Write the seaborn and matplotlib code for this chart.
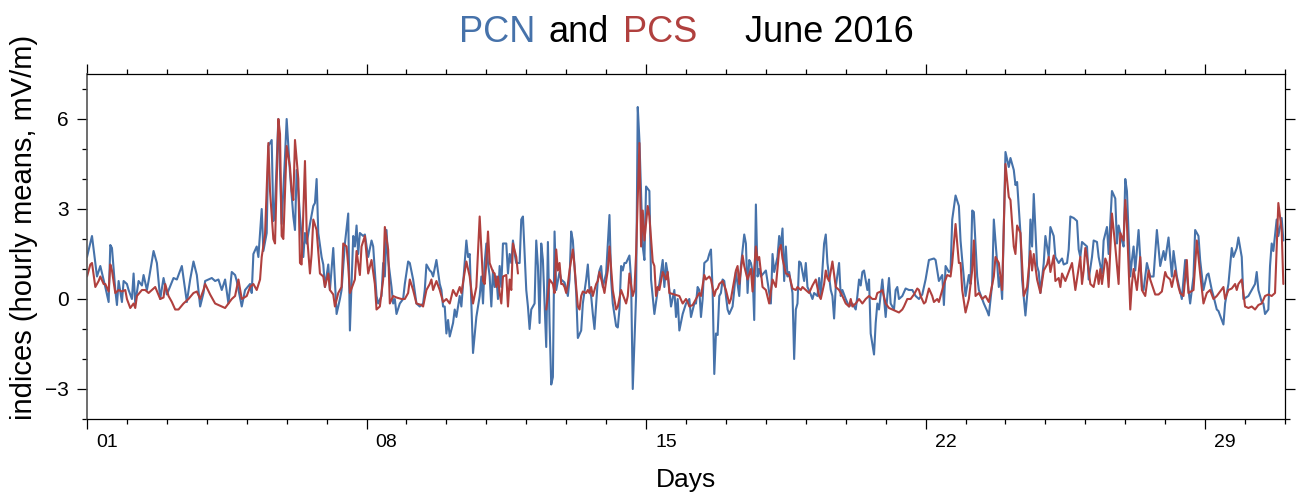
import numpy as np
import pandas as pd
import seaborn as sns
import matplotlib.pyplot as plt
import matplotlib.transforms as mtransforms
from matplotlib.ticker import MultipleLocator

# hourly means (hour since June 1 00:00, value in mV/m)
pcn_hours = [
    0, 3, 6, 8, 11, 13, 14, 15, 17, 18,
    19, 21, 22, 24, 25, 27, 28, 29, 31, 33,
    34, 36, 37, 40, 42, 44, 46, 48, 52, 54,
    57, 60, 62, 64, 66, 68, 70, 71, 73, 75,
    77, 79, 81, 83, 85, 87, 89, 90, 93, 95,
    98, 99, 100, 102, 103, 105, 106, 108, 109, 111,
    112, 113, 115, 117, 119, 120, 122, 124, 125, 126,
    127, 128, 130, 131, 132, 134, 136, 137, 138, 139,
    141, 142, 143, 145, 146, 148, 150, 152, 153, 155,
    157, 158, 160, 161, 162, 163, 164, 166, 167, 169,
    171, 172, 174, 175, 177, 178, 179, 180, 181, 183,
    184, 185, 186, 188, 190, 191, 193, 194, 196, 198,
    200, 202, 203, 204, 206, 207, 208, 210, 212, 213,
    214, 215, 216, 217, 218, 220, 221, 222, 224, 225,
    228, 229, 230, 231, 232, 234, 236, 237, 238, 239,
    240, 241, 242, 243, 244, 245, 246, 247, 248, 249,
    250, 252, 253, 254, 255, 256, 257, 258, 260, 261,
    262, 264, 265, 266, 267, 268, 269, 270, 271, 272,
    273, 274, 276, 277, 278, 279, 280, 281, 282, 284,
    285, 287, 289, 290, 291, 292, 294, 295, 297, 298,
    300, 301, 302, 303, 304, 305, 306, 307, 308, 309,
    310, 312, 314, 315, 316, 318, 319, 320, 321, 322,
    323, 324, 326, 327, 328, 330, 331, 332, 334, 335,
    336, 338, 339, 341, 343, 344, 346, 347, 348, 349,
    351, 353, 354, 355, 356, 358, 360, 362, 363, 365,
    366, 367, 368, 369, 370, 371, 373, 374, 375, 376,
    377, 378, 379, 380, 381, 382, 383, 384, 385, 386,
    388, 389, 390, 392, 393, 395, 396, 397, 398, 399,
    400, 401, 402, 403, 404, 405, 408, 411, 412, 413,
    415, 416, 417, 418, 419, 420, 421, 422, 424, 425,
    426, 427, 428, 429, 431, 432, 433, 435, 436, 437,
    439, 440, 441, 443, 444, 445, 447, 448, 449, 450,
    452, 453, 454, 456, 458, 460, 462, 463, 464, 465,
    466, 467, 469, 470, 471, 473, 474, 475, 476, 478,
    480, 481, 482, 483, 485, 486, 487, 488, 490, 492,
    494, 496, 498, 500, 502, 504, 506, 509, 510, 512,
    514, 515, 516, 518, 519, 520, 522, 524, 525, 526,
    527, 528, 530, 531, 532, 533, 535, 536, 538, 539,
    541, 542, 544, 545, 547, 548, 549, 550, 552, 554,
    555, 557, 558, 559, 561, 562, 564, 566, 567, 568,
    569, 571, 572, 573, 575, 576, 578, 579, 581, 582,
    584, 586, 587, 589, 590, 591, 593, 595, 596, 597,
    598, 599, 601, 602, 604, 605, 607, 608, 610, 611,
    613, 614, 616, 618, 619, 620, 621, 622, 623, 624,
    625, 627, 628, 629, 630, 632, 634, 635, 637, 639,
    641, 643, 645, 647, 648, 650, 652, 653, 655, 656,
    658, 660, 662, 663, 665, 666, 668, 669, 671, 673,
    674, 676, 677, 679, 680, 682, 683, 684, 686, 687,
    688, 689, 691, 692, 694, 695, 698, 700, 702, 703,
    704, 706, 707, 708, 710, 711, 712, 713, 715, 716,
    718, 719,
]
pcn_values = [
    1.4, 2.1, 0.75, 1.1, 0.4, -0.1, 1.8, 1.7, 0.3, -0.2,
    0.6, -0.1, 0.6, 0.5, 0.3, 0.0, 0.85, -0.15, 0.6, 0.45,
    0.8, 0.3, 0.6, 1.6, 1.2, 0.0, 0.7, 0.15, 0.7, 0.65,
    1.1, -0.1, 0.65, 1.25, 0.8, -0.25, 0.2, 0.6, 0.65, 0.7,
    0.6, 0.65, 0.3, 0.65, -0.15, 0.9, 0.8, 0.6, -0.25, 0.3,
    0.5, 0.2, 1.5, 1.75, 1.4, 3.0, 1.6, 2.2, 5.1, 5.3,
    2.6, 3.1, 6.0, 2.5, 4.75, 6.0, 4.2, 2.75, 2.3, 4.3,
    3.6, 2.75, 1.4, 2.2, 1.85, 2.5, 3.1, 3.2, 4.0, 2.2,
    1.4, 1.15, 0.4, 1.15, 0.3, 1.7, -0.5, 0.0, 0.3, 1.85,
    2.85, -1.05, 2.1, 1.75, 2.45, 1.5, 2.2, 2.1, 2.15, 1.4,
    1.95, 1.75, 0.1, -0.15, 0.1, 1.2, 0.75, 2.3, 1.3, 0.4,
    -0.15, 0.0, -0.5, -0.15, 0.0, 0.5, 1.25, 1.2, 0.65, -0.15,
    -0.25, -0.15, 0.3, 1.15, 0.95, 0.9, 0.75, 1.3, 0.5, 0.3,
    -0.25, -0.25, -1.15, -0.7, -1.25, -0.8, -0.35, -0.6, 0.1, -0.25,
    1.95, 1.4, 1.5, -0.15, -1.8, -0.6, 0.1, 0.75, -0.15, 1.2,
    1.85, 1.2, 0.75, -0.25, 0.95, 0.4, 0.75, 0.0, 1.1, 0.4,
    1.85, 1.85, 0.85, 1.5, 1.2, 1.95, 1.5, 1.2, 1.2, 2.65,
    2.75, 0.3, -0.25, -1.0, -0.35, -0.25, -0.15, 1.95, 1.1, -0.8,
    1.85, 1.3, -1.6, 1.9, -0.8, -2.85, -2.6, 2.25, 0.3, 0.9,
    0.65, 0.55, 0.1, 0.65, 2.25, 1.95, 0.2, -1.3, -1.05, -0.15,
    0.65, 1.15, 0.3, 0.1, -0.5, -1.0, -0.15, 0.65, 0.95, 1.1,
    0.4, 0.85, 2.8, 0.65, -0.15, -0.9, -0.95, -0.35, 1.1, 0.95,
    1.2, 1.2, 1.45, 0.65, -3.0, 0.1, 6.4, 5.3, 1.75, 1.3,
    3.75, 3.6, 0.65, -0.5, 0.3, 0.5, 1.3, 0.4, 1.2, 0.85,
    -0.25, 0.3, -0.6, 0.0, -1.05, -0.5, -0.15, 0.0, -0.6, -0.15,
    -0.15, 0.4, 0.3, -0.6, 0.0, 1.2, 1.3, 1.5, 1.65, 0.3,
    -2.5, -1.15, -1.2, 0.1, 0.2, 0.65, 0.6, 0.1, -0.35, -0.5,
    -0.25, 0.3, 0.9, 0.1, 1.1, 2.15, 1.85, 0.2, 1.3, 1.2,
    0.9, -0.7, 3.15, 0.75, 1.0, 0.75, 0.95, -0.15, 1.5, 0.9,
    1.4, 2.1, 1.75, 2.35, 0.6, 1.75, 0.75, 0.9, 0.2, -2.0,
    -0.35, -0.15, 1.25, 1.2, 0.6, 1.2, 0.4, 0.15, 0.0, 0.2,
    0.1, 0.7, 0.1, 1.85, 2.15, 1.2, 0.3, 0.1, -0.65, 0.4,
    1.2, 0.1, 0.3, 0.0, -0.25, -0.15, -0.35, 0.1, 0.65, 0.45,
    0.9, 0.95, 0.3, 0.65, -1.15, -1.85, -0.8, -0.15, -0.35, 0.65,
    -0.6, 0.1, 0.7, -0.15, -0.35, 0.3, 0.4, 0.0, 0.1, 0.35,
    0.3, 0.3, 0.1, 0.0, 0.15, 0.65, 1.3, 1.35, 1.3, 0.6,
    0.8, -0.2, 1.1, 0.9, 0.95, 2.65, 3.45, 3.1, 1.95, 1.3,
    0.7, 0.1, 0.8, 0.5, 2.95, 2.9, 0.75, 0.3, 0.0, -0.15,
    -0.4, -0.55, 0.5, 2.65, 1.2, 0.4, 0.75, 0.0, 4.9, 4.4,
    4.7, 4.3, 3.8, 3.9, 2.2, 0.65, -0.55, 0.75, 2.65, 1.75,
    3.5, 1.1, 0.9, 0.2, 1.2, 2.1, 1.4, 2.4, 2.1, 1.4,
    1.2, 1.35, 1.15, 1.2, 1.65, 2.75, 2.7, 2.6, 1.65, 1.4,
    1.9, 1.85, 1.75, 0.65, 1.4, 1.95, 1.9, 1.4, 0.85, 1.95,
    2.4, 1.5, 3.6, 3.35, 1.85, 2.45, 2.2, 1.95, 1.75, 4.0,
    3.6, 0.75, 1.3, 1.75, 0.95, 2.3, 0.4, 0.3, 1.2, 0.75,
    0.75, 2.3, 1.1, 1.6, 1.3, 2.05, 0.75, 1.6, 0.75, 0.5,
    0.0, 1.3, 0.3, -0.15, 0.75, 2.3, 2.1, 1.3, 0.3, 0.8,
    0.85, 0.3, 0.1, -0.35, -0.4, -0.7, -0.85, -0.15, 0.5, 1.1,
    1.7, 1.4, 1.7, 2.05, 1.4, 0.0, 0.1, 0.3, 0.5, 0.9,
    0.3, -0.1, -0.15, -0.5, -0.35, 1.1, 1.85, 1.6, 2.65, 2.1,
    2.7, 1.95,
]

pcs_hours = [
    0, 2, 3, 5, 7, 8, 10, 11, 13, 14,
    15, 17, 19, 21, 23, 24, 26, 28, 29, 30,
    33, 35, 37, 38, 41, 44, 46, 47, 49, 51,
    53, 55, 58, 61, 64, 66, 68, 70, 71, 74,
    77, 79, 81, 83, 85, 87, 89, 91, 93, 96,
    98, 100, 102, 104, 105, 107, 109, 110, 112, 113,
    115, 116, 117, 118, 120, 122, 123, 124, 125, 127,
    128, 129, 131, 132, 134, 135, 136, 138, 140, 142,
    143, 145, 146, 148, 149, 151, 153, 154, 156, 157,
    158, 160, 161, 162, 164, 165, 167, 169, 171, 173,
    174, 176, 178, 179, 181, 182, 184, 186, 189, 191,
    193, 194, 196, 198, 201, 202, 204, 206, 207, 208,
    210, 212, 214, 216, 218, 220, 222, 224, 225, 228,
    230, 232, 234, 236, 238, 239, 240, 241, 242, 244,
    245, 246, 247, 248, 249, 250, 252, 253, 254, 255,
    256, 258, 259, 267, 276, 277, 278, 280, 281, 282,
    283, 284, 285, 286, 287, 288, 289, 290, 292, 293,
    294, 295, 296, 297, 298, 300, 301, 302, 303, 304,
    305, 306, 307, 308, 310, 311, 312, 313, 314, 316,
    318, 319, 321, 322, 324, 325, 326, 328, 329, 330,
    332, 333, 334, 335, 337, 338, 340, 341, 342, 343,
    344, 346, 348, 349, 350, 353, 356, 358, 360, 361,
    362, 364, 366, 368, 369, 371, 372, 374, 375, 377,
    378, 379, 380, 382, 384, 386, 387, 390, 391, 392,
    394, 395, 397, 399, 400, 402, 403, 404, 406, 408,
    410, 412, 414, 416, 417, 418, 420, 422, 424, 426,
    427, 429, 430, 432, 434, 436, 438, 440, 441, 443,
    444, 445, 446, 448, 450, 452, 454, 456, 458, 459,
    460, 462, 464, 466, 468, 470, 472, 474, 475, 477,
    478, 480, 482, 484, 486, 488, 490, 491, 493, 495,
    497, 499, 500, 501, 503, 504, 506, 508, 509, 511,
    512, 514, 515, 517, 519, 520, 522, 524, 525, 526,
    528, 530, 532, 533, 534, 536, 538, 540, 542, 545,
    546, 548, 550, 552, 554, 555, 557, 558, 559, 561,
    563, 565, 567, 568, 569, 571, 573, 575, 577, 578,
    579, 581, 582, 584, 585, 586, 588, 592, 594, 597,
    598, 599, 600, 601, 603, 605, 607, 608, 609, 610,
    612, 613, 614, 616, 618, 620, 621, 623, 624, 625,
    627, 628, 629, 631, 633, 634, 636, 638, 639, 642,
    644, 646, 648, 649, 651, 652, 654, 656, 657, 659,
    661, 662, 665, 667, 669, 671, 673, 675, 677, 679,
    681, 683, 684, 686, 688, 690, 691, 692, 694, 696,
    698, 700, 702, 704, 706, 708, 710, 712, 714, 716,
    718, 719,
]
pcs_values = [
    0.75, 1.15, 1.2, 0.4, 0.6, 0.75, 0.5, 0.5, 0.25, 1.15,
    0.95, 0.2, 0.3, 0.25, 0.3, 0.0, -0.3, -0.15, -0.3, 0.1,
    0.3, 0.3, 0.2, 0.25, 0.4, 0.0, 0.05, 0.5, 0.1, -0.1,
    -0.35, -0.35, -0.15, 0.0, 0.2, 0.25, 0.0, 0.3, 0.5, 0.15,
    -0.15, -0.2, -0.25, -0.3, -0.15, 0.0, 0.1, 0.65, 0.0, 0.1,
    0.4, 0.5, 0.3, 0.65, 1.4, 2.15, 5.2, 3.6, 2.0, 1.85,
    6.0, 5.5, 2.1, 2.0, 5.1, 4.4, 3.6, 3.3, 5.3, 4.0,
    1.2, 1.15, 4.6, 2.3, 0.85, 1.5, 2.65, 2.3, 0.85, 0.75,
    0.4, 0.85, 0.3, 0.15, -0.25, 0.2, 0.4, 1.85, 1.75, 1.1,
    0.2, 0.5, 0.65, 1.6, 0.8, 1.75, 2.1, 0.85, 1.3, 0.5,
    -0.35, -0.25, 0.65, 2.4, 1.65, -0.15, 0.1, 0.05, 0.0, 0.0,
    0.2, 0.65, 0.3, -0.15, -0.2, -0.25, 0.3, 0.5, 0.65, 0.3,
    0.6, 0.3, -0.1, 0.0, -0.15, 0.3, 0.1, 0.4, 0.2, 1.25,
    0.75, -0.15, 0.4, 2.75, 0.6, 0.5, 1.2, 2.25, 1.2, 0.9,
    0.85, 0.4, 0.75, 0.2, -0.15, 0.75, 0.8, -0.25, 0.65, 0.3,
    1.85, 1.4, 0.85, np.nan, -0.35, 0.1, 0.65, 0.5, 0.2, 1.65,
    0.95, 1.2, 0.5, 0.5, 0.4, 0.2, 0.5, 0.95, 1.65, 1.1,
    0.4, -0.25, -0.35, 0.1, 0.25, 0.2, 0.3, 0.2, 0.4, 0.1,
    0.3, 0.5, 0.6, 0.9, 0.45, 0.2, 0.6, 0.95, 1.75, 0.3,
    -0.35, -0.25, 0.3, 0.15, -0.15, 0.1, 0.85, 0.1, 0.3, 1.5,
    5.2, 1.75, 2.95, 1.95, 3.1, 2.75, 1.25, 1.1, 0.1, 0.4,
    0.3, 0.9, 0.65, 0.9, 0.2, 0.15, 0.1, -0.15, 0.0, -0.1,
    -0.25, -0.2, 0.0, 0.2, 0.1, 0.8, 0.65, 0.75, 0.65, 0.1,
    0.3, 0.35, 0.5, 0.6, 0.3, -0.15, 0.0, 0.95, 1.1, 0.5,
    1.45, 1.1, 0.65, 1.0, 0.25, 1.75, 1.3, 1.4, 0.4, 0.3,
    -0.15, 0.65, 0.4, 1.65, 1.8, 1.35, 0.85, 0.8, 0.35, 0.3,
    0.4, 0.3, 0.4, 0.3, 0.2, 0.45, 0.65, 0.1, 0.0, 0.5,
    0.95, 0.7, 0.6, 1.25, 0.4, 0.3, 0.1, -0.15, -0.25, 0.0,
    -0.25, -0.15, 0.0, -0.15, 0.0, 0.1, 0.0, 0.0, 0.2, 0.25,
    0.3, -0.15, -0.3, -0.35, -0.4, -0.45, -0.35, -0.25, 0.0, 0.0,
    0.15, 0.35, 0.3, 0.1, -0.15, -0.1, 0.35, 0.1, -0.1, 0.0,
    -0.1, 0.3, 0.5, 0.8, 0.75, 1.2, 2.5, 1.2, 1.2, 0.3,
    -0.45, 0.0, 0.95, 1.95, 0.1, 0.2, 0.0, 0.1, -0.1, 0.75,
    1.4, 1.2, 0.3, 4.5, 3.4, 3.3, 1.75, 1.5, 2.45, 2.2,
    0.1, 0.4, 1.6, 0.95, 1.5, 0.65, 0.2, 0.95, 1.15, 1.4,
    0.9, 1.45, 0.6, 0.7, 0.4, 0.85, 0.6, 1.2, 0.3, 1.4,
    0.5, 0.95, 1.7, 1.4, 0.5, 0.4, 0.95, 0.5, 1.0, 0.5,
    1.35, 1.2, 0.4, 2.85, 1.75, 0.5, 2.2, 1.95, 3.3, 2.5,
    -0.35, 0.5, 1.0, 0.3, 1.4, 0.3, 0.1, 0.95, 0.65, 0.15,
    0.15, 0.25, 0.9, 0.75, 0.65, 0.4, 0.95, 0.4, 0.2, 0.1,
    1.3, 0.2, 0.3, 1.95, 0.85, -0.15, 0.2, 0.3, 0.0, 0.1,
    0.25, 0.4, 0.0, 0.3, 0.35, 0.5, 0.3, 0.5, 0.65, -0.25,
    -0.3, -0.25, -0.35, -0.2, -0.15, 0.1, 0.15, 0.1, 0.2, 3.2,
    2.3, 0.5,
]

day_ticks = [1, 8, 15, 22, 29]
day_labels = ['01', '08', '15', '22', '29']
value_ticks = [-3, 0, 3, 6]

title_parts = ['PCN', 'and', 'PCS', 'June 2016']
title_gaps = [0, 9.5, 10.5, 34]  # points between pieces

BLUE = '#4672AA'
RED = '#B0403E'
title_colors = [BLUE, 'black', RED, 'black']

sns.set_theme(style='ticks')
plt.rcParams['font.family'] = ['Liberation Sans', 'DejaVu Sans']
plt.rcParams['text.color'] = 'black'
plt.rcParams['axes.labelcolor'] = 'black'

pcn = pd.DataFrame({'day': 1 + np.array(pcn_hours) / 24.0, 'value': pcn_values})
pcs = pd.DataFrame({'day': 1 + np.array(pcs_hours) / 24.0, 'value': pcs_values})
# PCS has a data gap: split the line into separate segments
pcs['segment'] = pcs['value'].isna().cumsum()
pcs = pcs.dropna()

fig = plt.figure(figsize=(12.97, 4.93), dpi=100)
ax = fig.add_axes([87 / 1297, 1 - 419 / 493, 1198 / 1297, 345 / 493])

sns.lineplot(data=pcn, x='day', y='value', color=BLUE, linewidth=1.5,
             estimator=None, sort=False, ax=ax)
sns.lineplot(data=pcs, x='day', y='value', units='segment', color=RED,
             linewidth=1.5, estimator=None, sort=False, ax=ax)

ax.set_xlim(1, 31)
ax.set_ylim(-4, 7.5)
ax.set_xlabel('')
ax.set_ylabel('')

ax.set_xticks(day_ticks)
ax.set_xticklabels(day_labels)
ax.xaxis.set_minor_locator(MultipleLocator(1))
ax.set_yticks(value_ticks)
ax.yaxis.set_minor_locator(MultipleLocator(1))

ax.tick_params(which='both', direction='out', top=True, right=True,
               colors='black', width=0.9)
ax.tick_params(which='major', length=7)
ax.tick_params(which='minor', length=3.8)
ax.tick_params(axis='x', labelsize=14, pad=4)
ax.tick_params(axis='y', labelsize=15, pad=6)

for side in ['top', 'right', 'bottom']:
    ax.spines[side].set_color('black')
    ax.spines[side].set_linewidth(0.9)
ax.spines['left'].set_color('#555555')
ax.spines['left'].set_linewidth(1.2)

# day labels sit at noon, half a day right of their tick
shift = mtransforms.ScaledTranslation(0.2, 0, fig.dpi_scale_trans)
for lbl in ax.get_xticklabels():
    lbl.set_transform(lbl.get_transform() + shift)

fig.text(686 / 1297, 1 - 486.7 / 493, 'Days', ha='center', va='baseline',
         fontsize=19, color='black')
fig.text(24 / 1297, 1 - 227 / 493, 'indices (hourly means, mV/m)',
         rotation=90, ha='center', va='center', fontsize=21, color='black')

# multi-coloured title, pieces laid out left to right and centred on the axes
pieces = []
for part, color, gap in zip(title_parts, title_colors, title_gaps):
    t = fig.text(0, 1 - 41.7 / 493, part, color=color, fontsize=26,
                 va='baseline', ha='left')
    pieces.append((t, gap))

fig.canvas.draw()
renderer = fig.canvas.get_renderer()
widths = [t.get_window_extent(renderer).width for t, gap in pieces]
total = sum(widths) + sum(g * 100 / 72 for g in title_gaps)
x = 686 - total / 2
for (t, gap), w in zip(pieces, widths):
    x += gap * 100 / 72
    t.set_position((x / 1297, 1 - 41.7 / 493))
    x += w

fig.savefig('out.png', dpi=100)
